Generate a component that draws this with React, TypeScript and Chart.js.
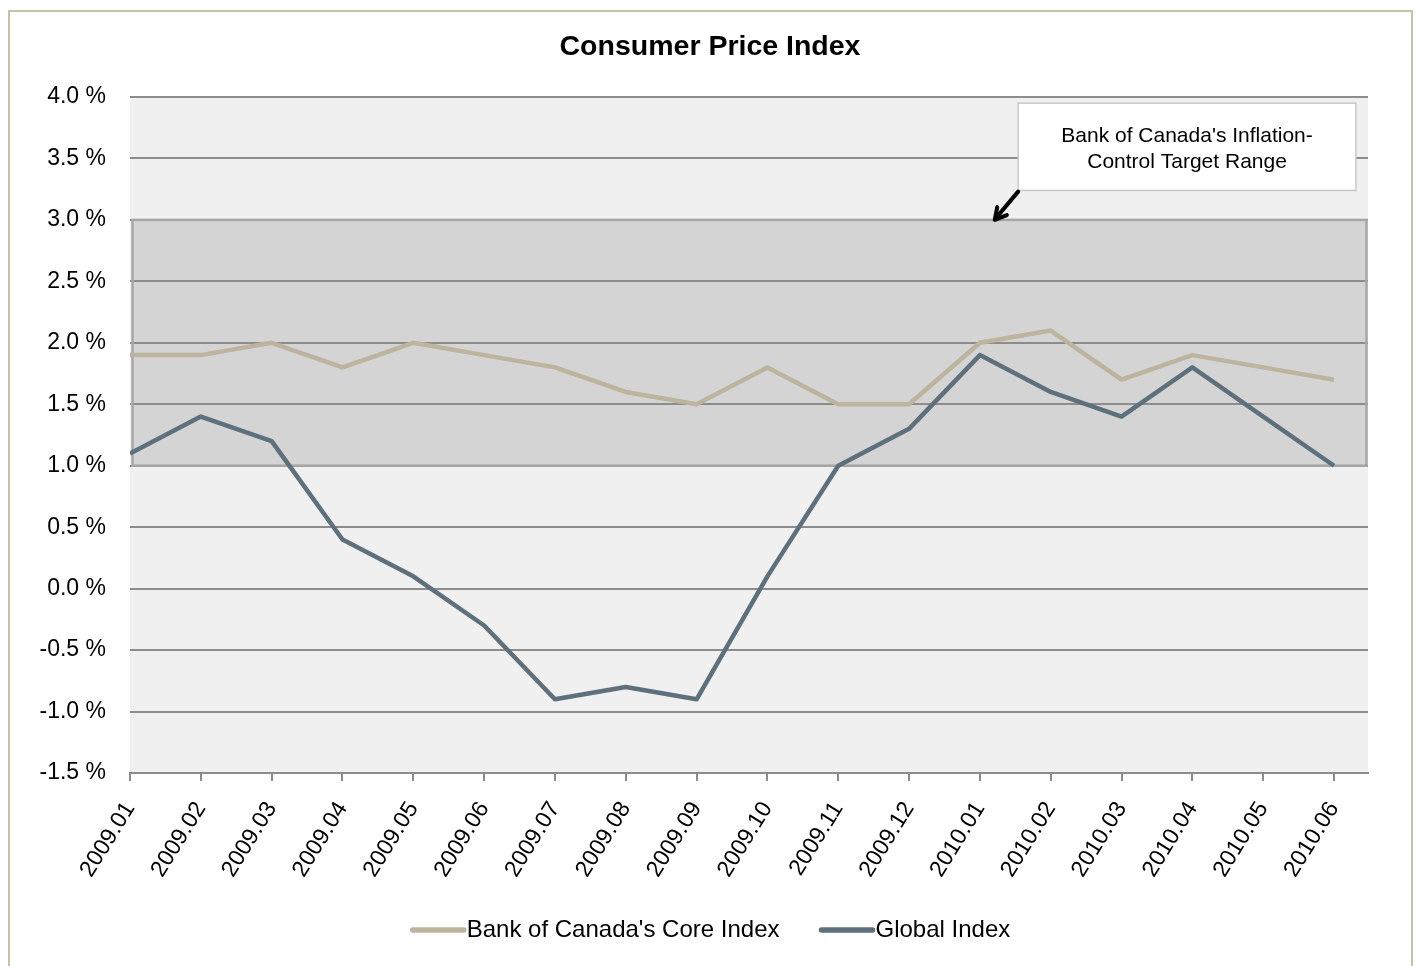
import React, { useEffect, useRef } from 'react';
import { Chart, registerables } from 'chart.js';

Chart.register(...registerables);

const categories = [
  '2009.01', '2009.02', '2009.03', '2009.04', '2009.05', '2009.06',
  '2009.07', '2009.08', '2009.09', '2009.10', '2009.11', '2009.12',
  '2010.01', '2010.02', '2010.03', '2010.04', '2010.05', '2010.06',
];
const coreIndex = [1.9, 1.9, 2.0, 1.8, 2.0, 1.9, 1.8, 1.6, 1.5, 1.8, 1.5, 1.5, 2.0, 2.1, 1.7, 1.9, 1.8, 1.7];
const globalIndex = [1.1, 1.4, 1.2, 0.4, 0.1, -0.3, -0.9, -0.8, -0.9, 0.1, 1.0, 1.3, 1.9, 1.6, 1.4, 1.8, 1.4, 1.0];
const targetRange = [1.0, 3.0];
const yTickValues = [-1.5, -1.0, -0.5, 0.0, 0.5, 1.0, 1.5, 2.0, 2.5, 3.0, 3.5, 4.0];
const seriesNames = ["Bank of Canada's Core Index", 'Global Index'];
const seriesColors = ['#bcb49e', '#5e707c'];
const annotationLines = ["Bank of Canada's Inflation-", 'Control Target Range'];
// annotation anchor in data units (x index, y %)
const annotationBox = { x0: 12.54, x1: 17.31, y0: 3.95, y1: 3.24 };
const arrowFrom = { x: 12.54, y: 3.23 };
const arrowTo = { x: 12.21, y: 3.0 };

const FONT = 'Arial, "Liberation Sans", sans-serif';
const LEGEND_FONT = 24;
const LEGEND_SAMPLE = 57;
const LEGEND_GAP = 39;
const LEGEND_Y = 930;

const decorPlugin = {
  id: 'decor',
  beforeDraw(chart: any) {
    const { ctx, chartArea: a, scales } = chart;
    const y = scales.y;
    ctx.save();
    ctx.fillStyle = '#f0f0f0';
    ctx.fillRect(a.left, a.top, a.right - a.left, a.bottom - a.top);
    const yTop = y.getPixelForValue(targetRange[1]);
    const yBot = y.getPixelForValue(targetRange[0]);
    ctx.fillStyle = '#d4d4d4';
    ctx.fillRect(a.left + 2, yTop, a.right - a.left - 3, yBot - yTop);
    ctx.restore();
  },
  beforeDatasetsDraw(chart: any) {
    const { ctx, chartArea: a, scales } = chart;
    const y = scales.y;
    const yTop = y.getPixelForValue(targetRange[1]);
    const yBot = y.getPixelForValue(targetRange[0]);
    ctx.save();
    ctx.strokeStyle = '#a6a6a6';
    ctx.lineWidth = 2.5;
    ctx.strokeRect(a.left + 2.5, yTop, a.right - a.left - 4, yBot - yTop);
    ctx.restore();
  },
  afterDraw(chart: any) {
    const { ctx, scales } = chart;
    const x = scales.x;
    const y = scales.y;
    const bx0 = x.getPixelForValue(annotationBox.x0);
    const bx1 = x.getPixelForValue(annotationBox.x1);
    const by0 = y.getPixelForValue(annotationBox.y0);
    const by1 = y.getPixelForValue(annotationBox.y1);
    ctx.save();
    ctx.fillStyle = '#ffffff';
    ctx.fillRect(bx0, by0, bx1 - bx0, by1 - by0);
    ctx.strokeStyle = '#c8c8c8';
    ctx.lineWidth = 1.5;
    ctx.strokeRect(bx0, by0, bx1 - bx0, by1 - by0);
    ctx.fillStyle = '#000';
    ctx.font = `21px ${FONT}`;
    ctx.textAlign = 'center';
    ctx.textBaseline = 'middle';
    const cx = (bx0 + bx1) / 2;
    ctx.fillText(annotationLines[0], cx, by0 + 33);
    ctx.fillText(annotationLines[1], cx, by0 + 59);

    // arrow
    const ax0 = x.getPixelForValue(arrowFrom.x);
    const ay0 = y.getPixelForValue(arrowFrom.y);
    const ax1 = x.getPixelForValue(arrowTo.x);
    const ay1 = y.getPixelForValue(arrowTo.y);
    ctx.strokeStyle = '#000';
    ctx.fillStyle = '#000';
    ctx.lineWidth = 4;
    ctx.lineCap = 'round';
    ctx.beginPath();
    ctx.moveTo(ax0, ay0);
    ctx.lineTo(ax1 + 3, ay1 - 4);
    ctx.stroke();
    const ang = Math.atan2(ay1 - ay0, ax1 - ax0);
    const L = 13;
    ctx.lineJoin = 'round';
    ctx.beginPath();
    ctx.moveTo(ax1 - L * Math.cos(ang - 0.5), ay1 - L * Math.sin(ang - 0.5));
    ctx.lineTo(ax1, ay1);
    ctx.lineTo(ax1 - L * Math.cos(ang + 0.5), ay1 - L * Math.sin(ang + 0.5));
    ctx.stroke();

    // legend
    ctx.font = `${LEGEND_FONT}px ${FONT}`;
    ctx.textAlign = 'left';
    ctx.textBaseline = 'middle';
    const datasets = chart.data.datasets;
    const widths = datasets.map((d: any) => LEGEND_SAMPLE + ctx.measureText(d.label).width);
    const total = widths.reduce((s: number, w: number) => s + w, 0) + LEGEND_GAP * (datasets.length - 1);
    let lx = 710 - total / 2;
    datasets.forEach((d: any, i: number) => {
      ctx.strokeStyle = d.borderColor;
      ctx.lineWidth = 5.5;
      ctx.lineCap = 'round';
      ctx.beginPath();
      ctx.moveTo(lx + 3, LEGEND_Y);
      ctx.lineTo(lx + LEGEND_SAMPLE - 3, LEGEND_Y);
      ctx.stroke();
      ctx.fillStyle = '#000';
      ctx.fillText(d.label, lx + LEGEND_SAMPLE, LEGEND_Y);
      lx += widths[i] + LEGEND_GAP;
    });
    ctx.restore();
  },
};

export default function App() {
  const canvasRef = useRef<HTMLCanvasElement | null>(null);

  useEffect(() => {
    const canvas = canvasRef.current;
    if (!canvas) return;
    const chart = new Chart(canvas, {
      type: 'line',
      data: {
        datasets: [
          {
            label: seriesNames[0],
            data: coreIndex.map((v, i) => ({ x: i, y: v })),
            borderColor: seriesColors[0],
            backgroundColor: seriesColors[0],
            borderWidth: 4.5,
            pointRadius: 0,
            borderJoinStyle: 'round',
            borderCapStyle: 'butt',
            clip: 0,
          },
          {
            label: seriesNames[1],
            data: globalIndex.map((v, i) => ({ x: i, y: v })),
            borderColor: seriesColors[1],
            backgroundColor: seriesColors[1],
            borderWidth: 4.5,
            pointRadius: 0,
            borderJoinStyle: 'round',
            borderCapStyle: 'butt',
            clip: 0,
          },
        ],
      },
      options: {
        animation: false,
        responsive: false,
        maintainAspectRatio: false,
        layout: { padding: { left: 4, right: 0, top: 0, bottom: 87 } },
        plugins: {
          title: {
            display: true,
            text: 'Consumer Price Index',
            color: '#000',
            font: { family: FONT, size: 28.5, weight: 'bold' },
            padding: { top: 30, bottom: 32.8 },
          },
          legend: { display: false },
          tooltip: { enabled: false },
        },
        scales: {
          x: {
            type: 'linear',
            min: 0,
            max: 17.48,
            afterBuildTicks: (scale: any) => {
              scale.ticks = categories.map((_, i) => ({ value: i }));
            },
            afterFit: (scale: any) => {
              scale.height = 106;
            },
            grid: {
              drawOnChartArea: false,
              drawTicks: true,
              tickLength: 8,
              color: '#8c8c8c',
              lineWidth: 2,
            },
            border: { display: true, color: '#8c8c8c', width: 2 },
            ticks: {
              autoSkip: false,
              minRotation: 58,
              maxRotation: 58,
              padding: 16,
              color: '#000',
              font: { family: FONT, size: 23 },
              callback: (v: any) => categories[Math.round(Number(v))] ?? '',
            },
          },
          y: {
            type: 'linear',
            min: yTickValues[0],
            max: yTickValues[yTickValues.length - 1],
            afterBuildTicks: (scale: any) => {
              scale.ticks = yTickValues.map((v) => ({ value: v }));
            },
            afterFit: (scale: any) => {
              scale.width = 126;
            },
            grid: { color: '#8c8c8c', lineWidth: 2, drawTicks: false },
            border: { display: false },
            ticks: {
              padding: 24,
              color: '#000',
              font: { family: FONT, size: 23 },
              callback: (v: any) => Number(v).toFixed(1) + ' %',
            },
          },
          yRight: {
            type: 'linear',
            position: 'right',
            display: true,
            afterFit: (scale: any) => {
              scale.width = 48;
            },
            grid: { display: false, drawOnChartArea: false },
            border: { display: false },
            ticks: { display: false },
          },
        },
      } as any,
      plugins: [decorPlugin],
    });
    return () => chart.destroy();
  }, []);

  return (
    <div style={{ position: 'fixed', left: 0, top: 0, width: 1416, height: 966, background: '#fff', overflow: 'hidden' }}>
      <div
        style={{
          position: 'absolute',
          left: 8,
          top: 10,
          width: 1405,
          height: 1000,
          border: '2px solid #c8c3a8',
          boxSizing: 'border-box',
        }}
      />
      <canvas ref={canvasRef} width={1416} height={966} style={{ position: 'absolute', left: 0, top: 0, width: 1416, height: 966 }} />
    </div>
  );
}
